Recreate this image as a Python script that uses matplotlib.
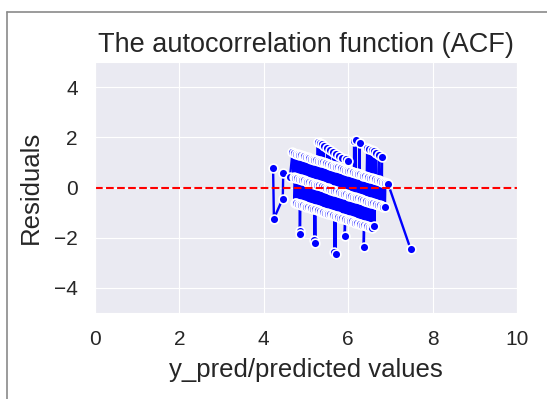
import numpy as np
import matplotlib
matplotlib.use('Agg')
import matplotlib.pyplot as plt
import seaborn as sns
from matplotlib.lines import Line2D

sns.set_style('darkgrid')
plt.rcParams['font.family'] = ['Liberation Sans', 'DejaVu Sans']

# points, grouped by the diagonal band they sit on
top_x = [5.28, 5.33, 5.38, 5.42, 5.50, 5.57, 5.65, 5.71, 5.78, 5.86, 5.94, 6.00,
         6.14, 6.18, 6.27, 6.45, 6.50, 6.56, 6.61, 6.66, 6.73, 6.80]
top_y = [1.80, 1.76, 1.72, 1.66, 1.57, 1.49, 1.41, 1.33, 1.26, 1.19, 1.12, 1.05,
         1.84, 1.90, 1.76, 1.59, 1.55, 1.50, 1.45, 1.38, 1.30, 1.23]

band1_x = [4.68, 4.72, 4.76, 4.80, 4.84, 4.88, 4.92, 4.96, 5.00, 5.04,
           5.08, 5.12, 5.16, 5.20, 5.24, 5.28, 5.32, 5.36, 5.40, 5.44,
           5.48, 5.52, 5.56, 5.60, 5.64, 5.68, 5.72, 5.76, 5.80, 5.84,
           5.88, 5.92, 5.96, 6.00, 6.04, 6.08, 6.12, 6.16, 6.20, 6.24,
           6.28, 6.32, 6.36, 6.40, 6.44, 6.48, 6.52, 6.56, 6.60, 6.64,
           6.68, 6.72, 6.76, 6.80, 6.84, 6.88, 6.92, 6.95]
band1_y = [1.40, 1.37, 1.34, 1.33, 1.31, 1.29, 1.27, 1.24, 1.22, 1.20,
           1.17, 1.15, 1.13, 1.11, 1.10, 1.07, 1.04, 1.02, 1.00, 0.98,
           0.97, 0.94, 0.91, 0.89, 0.87, 0.85, 0.83, 0.80, 0.78, 0.76,
           0.73, 0.71, 0.69, 0.67, 0.66, 0.63, 0.60, 0.58, 0.56, 0.54,
           0.53, 0.50, 0.47, 0.45, 0.42, 0.40, 0.38, 0.36, 0.35, 0.32,
           0.30, 0.28, 0.25, 0.23, 0.22, 0.19, 0.16, 0.12]

band2_x = [4.22, 4.46, 4.62,
           4.71, 4.75, 4.79, 4.83, 4.87, 4.91, 4.95, 4.99, 5.03, 5.07,
           5.11, 5.15, 5.19, 5.23, 5.27, 5.31, 5.35, 5.39, 5.43, 5.47,
           5.51, 5.55, 5.59, 5.63, 5.67, 5.71, 5.75, 5.79, 5.83, 5.87,
           5.91, 5.95, 5.99, 6.03, 6.07, 6.11, 6.15, 6.19, 6.23, 6.27,
           6.31, 6.35, 6.39, 6.43, 6.47, 6.51, 6.55, 6.59, 6.63, 6.67,
           6.71, 6.75, 6.79, 6.83, 6.87]
band2_y = [0.78, 0.58, 0.42,
           0.41, 0.39, 0.36, 0.34, 0.32, 0.30, 0.29, 0.26, 0.23, 0.21,
           0.18, 0.17, 0.15, 0.13, 0.11, 0.08, 0.06, 0.04, 0.01, -0.01,
           -0.03, -0.05, -0.08, -0.10, -0.12, -0.14, -0.16, -0.18, -0.20, -0.23,
           -0.25, -0.27, -0.30, -0.32, -0.34, -0.36, -0.38, -0.40, -0.42, -0.45,
           -0.47, -0.49, -0.52, -0.54, -0.56, -0.58, -0.60, -0.62, -0.64, -0.67,
           -0.69, -0.71, -0.74, -0.76, -0.78]

band3_x = [4.45,
           4.73, 4.77, 4.81, 4.85, 4.89, 4.93, 4.97, 5.01, 5.05, 5.09,
           5.13, 5.17, 5.21, 5.25, 5.29, 5.33, 5.37, 5.41, 5.45, 5.49,
           5.53, 5.57, 5.61, 5.65, 5.69, 5.73, 5.77, 5.81, 5.85, 5.89,
           5.93, 5.97, 6.01, 6.05, 6.09, 6.13, 6.17, 6.21, 6.25, 6.29,
           6.33, 6.37, 6.41, 6.45, 6.49, 6.53, 6.57]
band3_y = [-0.44,
           -0.60, -0.62, -0.64, -0.67, -0.69, -0.71, -0.74, -0.76, -0.78, -0.80,
           -0.82, -0.84, -0.86, -0.89, -0.91, -0.93, -0.96, -0.98, -1.00, -1.02,
           -1.04, -1.06, -1.08, -1.11, -1.13, -1.15, -1.18, -1.20, -1.22, -1.24,
           -1.26, -1.28, -1.30, -1.33, -1.35, -1.37, -1.40, -1.42, -1.44, -1.46,
           -1.48, -1.50, -1.52, -1.55, -1.57, -1.59, -1.61]

low_x = [4.24, 4.85, 4.86, 5.20, 5.22, 5.67, 5.70, 5.92, 6.37, 6.62, 7.48]
low_y = [-1.24, -1.72, -1.87, -2.10, -2.22, -2.55, -2.66, -1.92, -2.38, -1.55, -2.46]

y_pred = np.array(top_x + band1_x + band2_x + band3_x + low_x)
residuals = np.array(top_y + band1_y + band2_y + band3_y + low_y)
order = np.argsort(y_pred, kind='stable')

fig = plt.figure(figsize=(5.47, 3.99), dpi=100)
ax = fig.add_axes([95/547, 86/399, 422/547, 251/399])
ax.plot(y_pred[order], residuals[order], color='blue', marker='o', ms=6.3,
        lw=1.7, mec='white', mew=1.2)
ax.axhline(0, color='red', linestyle='--', lw=1.5)
ax.set_xlim(0, 10)
ax.set_ylim(-5, 5)
ax.set_xticks([0, 2, 4, 6, 8, 10])
ax.set_yticks([-4, -2, 0, 2, 4])
ax.tick_params(labelsize=15, pad=9)
ax.set_title('The autocorrelation function (ACF)', fontsize=19.5, pad=7)
ax.set_xlabel('y_pred/predicted values', fontsize=18.5, labelpad=6)
ax.set_ylabel('Residuals', fontsize=18.5, labelpad=8)

# frame of the screenshot
fig.add_artist(Line2D([7/547, 7/547], [0, 1 - 12/399], color='#8a8a8a', lw=1.2))
fig.add_artist(Line2D([7/547, 1], [1 - 12/399, 1 - 12/399], color='#8a8a8a', lw=1.2))

fig.savefig('out.png', dpi=100)
